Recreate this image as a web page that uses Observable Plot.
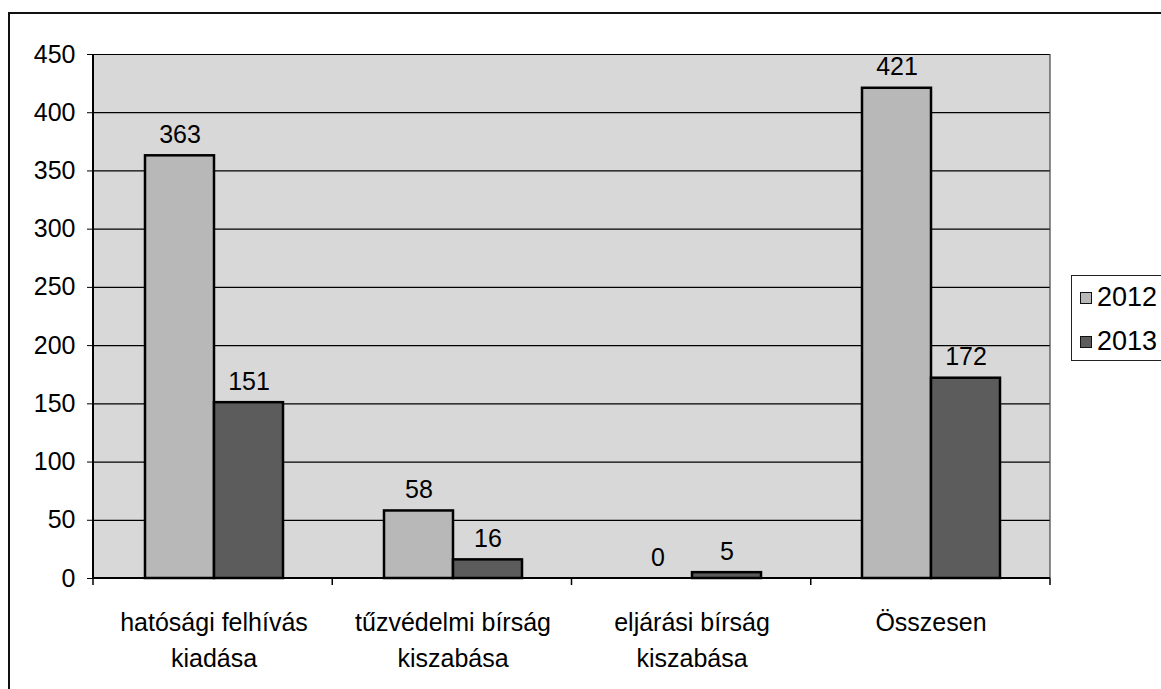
<!DOCTYPE html>
<html><head><meta charset="utf-8">
<script src="https://cdn.jsdelivr.net/npm/d3@7"></script>
<script src="https://cdn.jsdelivr.net/npm/@observablehq/plot@0.6"></script>
<style>
body{margin:0;background:#fff;font-family:"Liberation Sans",Arial,sans-serif;}
#wrap{position:relative;width:1161px;height:689px;overflow:hidden;}
#border{position:absolute;left:8px;top:12px;width:1200px;height:720px;border:2px solid #111;}
#chart{position:absolute;left:0;top:0;}
#legend{position:absolute;left:1071px;top:275px;width:120px;height:84px;border:1.5px solid #222;background:#fff;font-size:27px;color:#000;}
.item{position:absolute;left:8px;display:flex;align-items:center;line-height:1;}
.sw{width:10px;height:10px;border:1.5px solid #111;margin-right:5px;}
</style></head><body>
<div id="wrap"><div id="border"></div><div id="chart"></div><div id="legend"></div></div>
<script>
const categories = ["hatósági felhívás\nkiadása", "tűzvédelmi bírság\nkiszabása", "eljárási bírság\nkiszabása", "Összesen"];
const years = ["2012", "2013"];
const values2012 = [363, 58, 0, 421];
const values2013 = [151, 16, 5, 172];
const yTicks = [0, 50, 100, 150, 200, 250, 300, 350, 400, 450];
const colors = ["#b8b8b8", "#5c5c5c"];
const plotBackground = "#d8d8d8";

const data = categories.flatMap((c, i) => [
  {category: c, year: years[0], value: values2012[i]},
  {category: c, year: years[1], value: values2013[i]}
]);

const chart = Plot.plot({
  width: 1161, height: 689,
  marginLeft: 93, marginRight: 111, marginTop: 54, marginBottom: 111,
  style: {fontFamily: "'Liberation Sans', Arial, sans-serif", fontSize: "25px", color: "#000", background: "transparent", overflow: "visible"},
  fx: {domain: categories, padding: 0, label: null},
  x: {domain: years, paddingInner: 0, paddingOuter: 0.73, axis: null},
  y: {domain: [0, 450], label: null},
  color: {domain: years, range: colors},
  marks: [
    Plot.gridY(yTicks, {stroke: "#000", strokeOpacity: 1, strokeWidth: 1.2}),
    Plot.barY(data, {fx: "category", x: "year", y: "value", fill: "year", stroke: "#000", strokeWidth: 2.5}),
    Plot.text(data, {fx: "category", x: "year", y: "value", text: d => String(d.value), lineAnchor: "bottom", dy: -13, fontSize: 25, fill: "#000"}),
    Plot.axisY(yTicks, {tickSize: 7, tickPadding: 12, fontSize: 25, label: null, stroke: "#000"}),
    Plot.axisFx({anchor: "bottom", tickSize: 0, tickPadding: 27, fontSize: 25, lineHeight: 1.45, label: null})
  ]
});
document.getElementById("chart").appendChild(chart);

// plot background, axis lines and category boundary ticks, from the library's scales
const fxs = chart.scale("fx"), ys = chart.scale("y");
const [r0, r1] = fxs.range;
const step = (r1 - r0) / fxs.domain.length;
const y0 = ys.range[0], y1 = ys.range[1];
const svg = d3.select(chart);
const firstG = chart.querySelector("g");
svg.insert("rect", () => firstG)
  .attr("x", r0).attr("y", y1).attr("width", r1 - r0).attr("height", y0 - y1)
  .attr("fill", plotBackground);
const g = svg.append("g").attr("stroke", "#000");
g.append("line").attr("x1", r0).attr("x2", r0).attr("y1", y1).attr("y2", y0).attr("stroke-width", 2);
g.append("line").attr("x1", r1).attr("x2", r1).attr("y1", y1).attr("y2", y0).attr("stroke-width", 1.2).attr("stroke", "#444");
g.append("line").attr("x1", r0).attr("x2", r1).attr("y1", y0).attr("y2", y0).attr("stroke-width", 2);
d3.range(fxs.domain.length + 1).forEach(i => {
  const x = r0 + i * step;
  g.append("line").attr("x1", x).attr("x2", x).attr("y1", y0).attr("y2", y0 + 7).attr("stroke-width", 1.5);
});

// legend
const legend = d3.select("#legend");
years.forEach((yr, i) => {
  const it = legend.append("div").attr("class", "item").style("top", (8 + i * 44) + "px");
  it.append("div").attr("class", "sw").style("background", colors[i]);
  it.append("span").text(yr);
});
</script>
</body></html>
